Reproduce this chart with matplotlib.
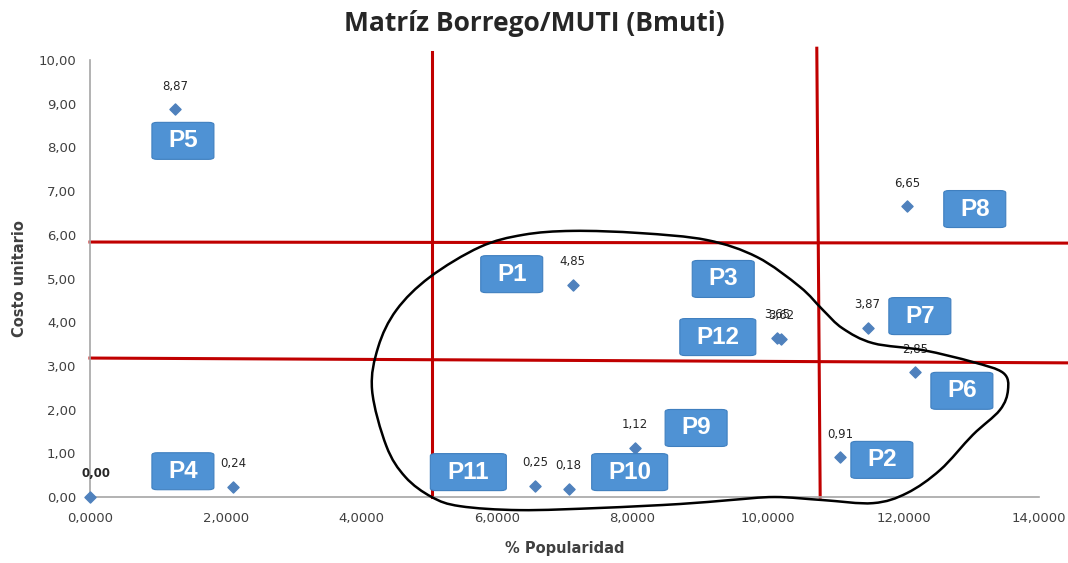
import numpy as np
import matplotlib.pyplot as plt
from matplotlib.patches import FancyBboxPatch
from matplotlib.path import Path
from matplotlib.patches import PathPatch

# product data
popularity = [0.0, 1.25, 2.11, 7.12, 10.14, 10.19, 12.05, 11.47, 12.17, 11.06, 8.04, 6.56, 7.06]
unit_cost = [0.00, 8.87, 0.24, 4.85, 3.65, 3.62, 6.65, 3.87, 2.85, 0.91, 1.12, 0.25, 0.18]
cost_labels = ['0,00', '8,87', '0,24', '4,85', '3,65', '3,62', '6,65', '3,87', '2,85', '0,91', '1,12', '0,25', '0,18']

tags = ['P5', 'P4', 'P1', 'P3', 'P12', 'P8', 'P7', 'P6', 'P9', 'P2', 'P11', 'P10']
tag_x = [1.37, 1.37, 6.22, 9.34, 9.26, 13.05, 12.24, 12.86, 8.94, 11.68, 5.58, 7.96]
tag_y = [8.15, 0.59, 5.10, 4.99, 3.66, 6.59, 4.14, 2.43, 1.58, 0.85, 0.57, 0.57]

# cut lines of the matrix (slightly hand drawn)
vlines = [((5.04, 10.18), (5.04, 0.0)), ((10.72, 10.27), (10.77, 0.0))]
hlines = [((0.0, 5.835), (14.42, 5.81)), ((0.0, 3.18), (14.42, 3.07))]

# freehand outline around the grouped products
outline_x = [4.16, 4.25, 4.52, 5.01, 5.75, 6.39, 7.12, 8.11, 9.10, 9.84, 10.47, 10.81, 11.10, 11.55, 12.29, 13.02,
             13.47, 13.54, 13.42, 13.02, 12.54, 12.05, 11.55, 10.81, 10.10, 9.44, 8.70, 7.52, 6.34, 5.46, 5.04, 4.65, 4.37]
outline_y = [2.45, 3.43, 4.28, 5.03, 5.72, 6.00, 6.09, 6.04, 5.88, 5.49, 4.81, 4.28, 3.86, 3.52, 3.36, 3.09,
             2.84, 2.45, 1.99, 1.42, 0.62, 0.09, -0.14, -0.07, 0.00, -0.07, -0.16, -0.25, -0.30, -0.21, 0.00, 0.46, 1.17]

plt.rcParams['font.family'] = ['DejaVu Sans']

fig = plt.figure(figsize=(10.68, 5.63), dpi=100)
ax = fig.add_axes([0.0843, 0.1172, 0.8887, 0.7762])

ax.set_xlim(0, 14)
ax.set_ylim(0, 10)
ax.set_xticks(np.arange(0, 15, 2))
ax.set_yticks(np.arange(0, 11, 1))
ax.set_xticklabels(['{:.4f}'.format(v).replace('.', ',') for v in np.arange(0, 15, 2)])
ax.set_yticklabels(['{:.2f}'.format(v).replace('.', ',') for v in np.arange(0, 11, 1)])
ax.tick_params(axis='x', length=0, labelsize=9.5, colors='#404040', pad=11)
ax.tick_params(axis='y', length=0, labelsize=9.5, colors='#404040', pad=10)
for s in ['top', 'right']:
    ax.spines[s].set_visible(False)
for s in ['left', 'bottom']:
    ax.spines[s].set_color('#a6a6a6')
    ax.spines[s].set_linewidth(1.2)

for (x0, y0), (x1, y1) in vlines + hlines:
    ax.plot([x0, x1], [y0, y1], color='#c00000', lw=2.2, clip_on=False, zorder=2)

ax.scatter(popularity, unit_cost, marker='D', s=32, color='#4f81bd', zorder=4, clip_on=False)
for x, y, lab in zip(popularity, unit_cost, cost_labels):
    w = 'bold' if lab == '0,00' else 'normal'
    ax.annotate(lab, (x, y), xytext=(4 if lab == '0,00' else 0, 12), textcoords='offset points',
                ha='center', va='bottom', fontsize=8.5, color='#262626', fontweight=w, zorder=5)

# outline as smooth closed curve
pts = np.column_stack([outline_x, outline_y])
n = len(pts)
verts = [pts[0]]
codes = [Path.MOVETO]
for i in range(n):
    p0, p1, p2, p3 = pts[i - 1], pts[i], pts[(i + 1) % n], pts[(i + 2) % n]
    c1 = p1 + (p2 - p0) / 6.0
    c2 = p2 - (p3 - p1) / 6.0
    verts += [c1, c2, p2]
    codes += [Path.CURVE4] * 3
ax.add_patch(PathPatch(Path(verts, codes), fill=False, lw=1.8, ec='black', zorder=6, clip_on=False))

for name, x, y in zip(tags, tag_x, tag_y):
    bw = (62 if len(name) == 2 else 76) / 67.8
    bh = 37 / 43.7
    ax.add_patch(FancyBboxPatch((x - bw / 2, y - bh / 2), bw, bh,
                                boxstyle='round,pad=0,rounding_size=0.08', mutation_aspect=0.65,
                                fc='#4f92d4', ec='#3f7fbf', lw=0.8, zorder=7, clip_on=False))
    ax.text(x, y, name, ha='center', va='center', color='white', fontsize=17.5, fontweight='bold',
            family='Liberation Sans', zorder=8)

fig.text(0.5, 0.958, 'Matríz Borrego/MUTI (Bmuti)', ha='center', va='center', fontsize=19,
         fontweight='bold', family='Open Sans', color='#262626')
ax.set_xlabel('% Popularidad', fontsize=10.5, fontweight='bold', color='#404040', labelpad=11)
ax.set_ylabel('Costo unitario', fontsize=10.5, fontweight='bold', color='#404040', labelpad=8)

fig.savefig('out.png', dpi=100)
